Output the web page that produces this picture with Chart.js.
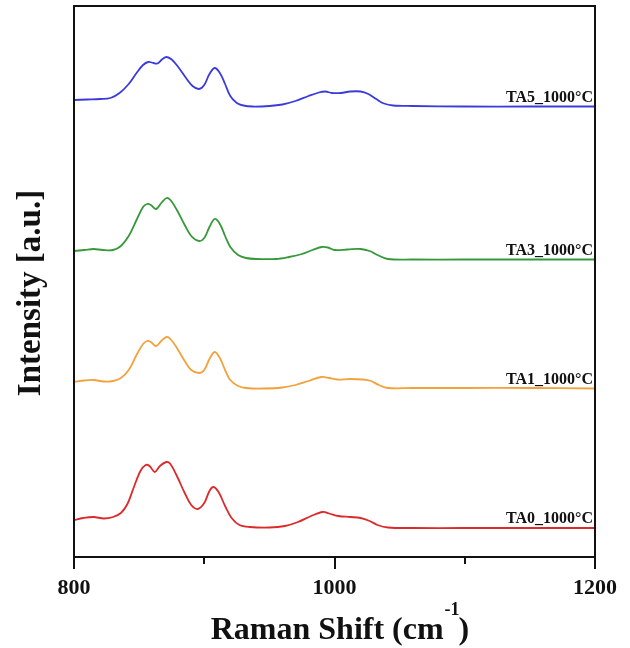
<!DOCTYPE html>
<html>
<head>
<meta charset="utf-8">
<script src="https://cdn.jsdelivr.net/npm/chart.js@4/dist/chart.umd.min.js"></script>
<style>
  html, body { margin: 0; padding: 0; background: #fff; }
  canvas { display: block; }
</style>
</head>
<body>
<canvas id="grafico" width="630" height="648"></canvas>
<script>
// Raman shift (cm-1) and intensity (a.u., offset stacked)
const ta5Shift = [800, 810, 820, 828, 835, 842, 848, 853, 857, 861, 864, 868, 871, 875, 880, 886, 891, 896, 900, 904, 908, 912, 916, 920, 925, 930, 937, 950, 960, 970, 980, 988, 993, 998, 1005, 1012, 1020, 1026, 1032, 1038, 1045, 1060, 1100, 1150, 1200];
const ta5Int = [457, 457.5, 458, 459, 464, 473, 484, 492, 495, 494, 493.5, 498, 500, 497.5, 490, 479, 471, 468, 472, 483, 489, 484, 473, 461, 454, 451.5, 450.5, 451, 452.5, 456, 461, 464.5, 465.5, 464, 464, 465.5, 465.5, 463, 458, 453.5, 451.5, 451, 450.5, 450.5, 450.5];

const ta3Shift = [800, 808, 815, 822, 830, 836, 842, 848, 853, 856, 859, 863, 867, 871, 874, 879, 885, 890, 896, 900, 904, 908, 912, 916, 920, 926, 932, 940, 955, 965, 975, 983, 990, 995, 1000, 1010, 1020, 1027, 1033, 1041, 1060, 1100, 1150, 1200];
const ta3Int = [306, 307, 308, 307, 307, 311, 321, 337, 350, 353, 352, 348, 354, 359, 357, 347, 332, 321, 316, 319, 330, 338, 333, 321, 310, 302, 299, 298, 298, 300, 303, 307, 310, 309.5, 307, 307.5, 308, 306, 302, 298, 297.5, 297.5, 297.5, 297.5];

const ta1Shift = [800, 808, 815, 823, 830, 836, 842, 848, 853, 856, 859, 863, 867, 871, 874, 879, 885, 890, 896, 900, 904, 908, 912, 916, 920, 926, 932, 945, 960, 970, 980, 990, 996, 1002, 1012, 1022, 1028, 1034, 1041, 1060, 1100, 1150, 1200];
const ta1Int = [175, 176.5, 177, 175.5, 176, 179, 187, 202, 213, 216, 215, 211, 216, 220, 218, 209, 196, 187, 184, 187, 198, 205, 199, 187, 177, 171, 169, 168.5, 169.5, 172, 176, 180, 179, 177.5, 178, 177.5, 176, 172, 169, 169, 169, 169, 168.5];

const ta0Shift = [800, 807, 815, 823, 830, 836, 841, 846, 851, 855, 858, 862, 866, 871, 874, 879, 885, 890, 895, 900, 904, 907, 911, 916, 921, 927, 935, 950, 962, 972, 982, 991, 996, 1003, 1012, 1020, 1027, 1033, 1041, 1060, 1100, 1150, 1200];
const ta0Int = [37, 39, 40, 38.5, 40, 44, 53, 70, 86, 92, 91, 85, 91, 95, 93, 81, 64, 52, 48, 54, 66, 70, 65, 51, 39, 32, 30, 29.5, 31, 35, 41, 45, 43.5, 41, 40, 39, 36, 32, 29.5, 29, 29, 29, 29];

const nomes = ["TA5_1000°C", "TA3_1000°C", "TA1_1000°C", "TA0_1000°C"];
const cores = ["#3b3bdc", "#35993a", "#f2a23c", "#dc2a2a"];
const xLabels = [800, 1000, 1200];
const xMinor = [900, 1100];

const pares = (xs, ys) => xs.map((x, i) => ({ x: x, y: ys[i] }));
const series = [pares(ta5Shift, ta5Int), pares(ta3Shift, ta3Int), pares(ta1Shift, ta1Int), pares(ta0Shift, ta0Int)];

const serif = "'Liberation Serif', 'Times New Roman', serif";

const extras = {
    id: "extras",
    afterDraw(chart) {
        const ctx = chart.ctx;
        const a = chart.chartArea;
        const xs = chart.scales.x;
        const ys = chart.scales.y;
        ctx.save();
        // moldura
        ctx.strokeStyle = "#111";
        ctx.lineWidth = 2;
        ctx.strokeRect(a.left, a.top, a.right - a.left, a.bottom - a.top);
        // ticks menores
        xMinor.forEach(v => {
            const px = Math.round(xs.getPixelForValue(v));
            ctx.beginPath();
            ctx.moveTo(px, a.bottom);
            ctx.lineTo(px, a.bottom + 7);
            ctx.stroke();
        });
        // nomes das amostras
        ctx.fillStyle = "#111";
        ctx.font = "bold 16px " + serif;
        ctx.textAlign = "right";
        ctx.textBaseline = "alphabetic";
        series.forEach((s, i) => {
            const ult = s[s.length - 1];
            ctx.fillText(nomes[i], a.right - 2, ys.getPixelForValue(ult.y) - 5);
        });
        // titulo y
        ctx.save();
        ctx.translate(31, 293);
        ctx.rotate(-Math.PI / 2);
        ctx.textAlign = "center";
        ctx.textBaseline = "middle";
        ctx.font = "bold 33px " + serif;
        ctx.fillText("Intensity [a.u.]", 0, 0);
        ctx.restore();
        // titulo x com expoente
        ctx.textAlign = "left";
        ctx.textBaseline = "alphabetic";
        const t1 = "Raman Shift (cm", sup = "-1", t2 = ")";
        const fBig = "bold 32px " + serif, fSup = "bold 18px " + serif;
        ctx.font = fBig;
        const w1 = ctx.measureText(t1).width, w3 = ctx.measureText(t2).width;
        ctx.font = fSup;
        const w2 = ctx.measureText(sup).width;
        const x0 = 340 - (w1 + w2 + w3) / 2;
        const base = 639;
        ctx.font = fBig;
        ctx.fillText(t1, x0, base);
        ctx.font = fSup;
        ctx.fillText(sup, x0 + w1 + 1, base - 24);
        ctx.font = fBig;
        ctx.fillText(t2, x0 + w1 + w2, base);
        ctx.restore();
    }
};

new Chart(document.getElementById("grafico"), {
    type: "line",
    data: {
        datasets: series.map((s, i) => ({
            label: nomes[i],
            data: s,
            borderColor: cores[i],
            borderWidth: 1.8,
            pointRadius: 0,
            tension: 0.35,
            fill: false
        }))
    },
    options: {
        responsive: false,
        animation: false,
        layout: { padding: { left: 74, right: 35, top: 6, bottom: 0 } },
        plugins: { legend: { display: false }, tooltip: { enabled: false } },
        scales: {
            x: {
                type: "linear",
                min: 800,
                max: 1200,
                afterBuildTicks: (scale) => { scale.ticks = xLabels.map(v => ({ value: v })); },
                afterFit: (scale) => { scale.height = 91; },
                ticks: {
                    color: "#111",
                    font: { family: serif, size: 22, weight: "bold" },
                    padding: 6,
                    maxRotation: 0,
                    autoSkip: false,
                    callback: (v) => String(v)
                },
                grid: { drawOnChartArea: false, color: "#111", lineWidth: 2, tickLength: 12 },
                border: { color: "#111", width: 2 }
            },
            y: {
                display: false,
                min: 0,
                max: 551
            }
        }
    },
    plugins: [extras]
});
</script>
</body>
</html>
